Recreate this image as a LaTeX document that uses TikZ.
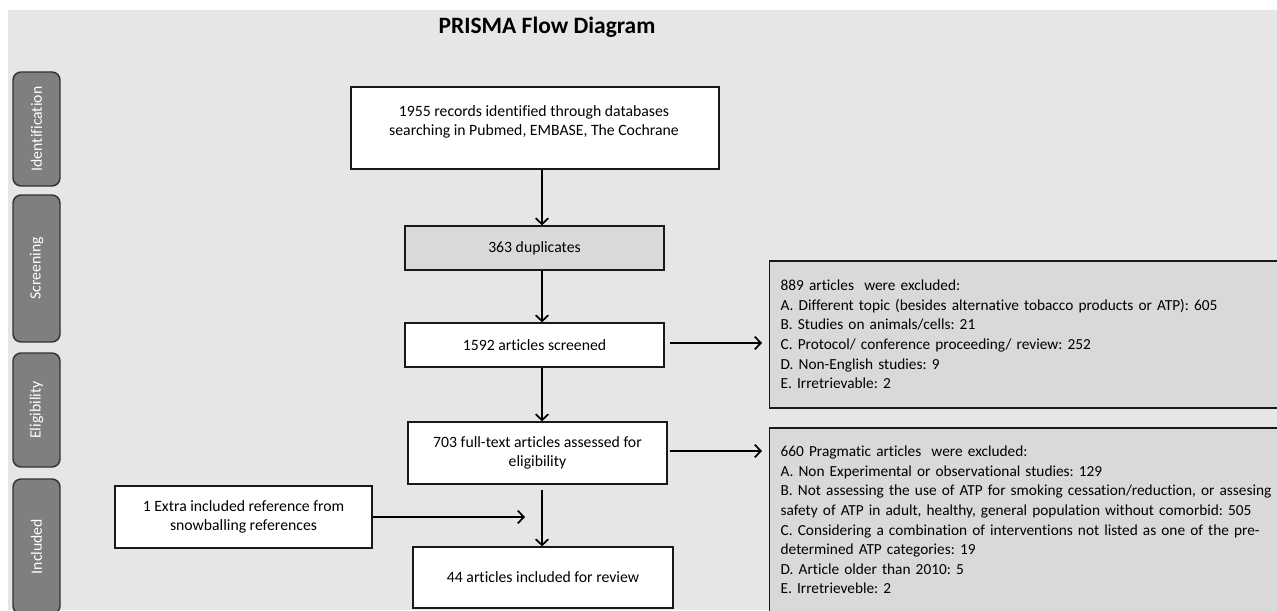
\documentclass[tikz,border=0pt]{standalone}
\usepackage{fontspec}
\setmainfont{Carlito}[Ligatures=NoCommon]
\usetikzlibrary{arrows.meta,calc}
\definecolor{bgc}{HTML}{E8E5E6}
\definecolor{boxgray}{HTML}{D9D9D9}
\definecolor{barfill}{HTML}{7F7F7F}
\definecolor{barline}{HTML}{333333}
\newcommand\bodyfont{\fontsize{11.8pt}{14.7pt}\selectfont}
\newcommand\exclfont{\fontsize{11.5pt}{14.7pt}\selectfont\spaceskip=0.21em plus 0.1em minus 0.05em\relax}
\newcommand\barfont{\fontsize{11.8pt}{13pt}\selectfont}
\newcommand\titlefont{\fontsize{17.6pt}{20pt}\selectfont\bfseries}
\frenchspacing
\begin{document}
\begin{tikzpicture}[x=0.75pt,y=-0.75pt,
  flowbox/.style={draw=black!90, line width=0.95pt, fill=white, align=center, font=\bodyfont, inner sep=0pt},
  graybox/.style={flowbox, fill=boxgray},
  exclbox/.style={draw=black!90, line width=0.95pt, fill=boxgray, align=left, font=\exclfont,
     text width=390pt, inner xsep=8.25pt, inner ysep=0pt, anchor=west},
  stagebar/.style={draw=barline, line width=1.1pt, fill=barfill, rounded corners=6pt,
     minimum width=35.25pt, inner sep=0pt, text=white, font=\barfont},
  arr/.style={draw=black, line width=1.35pt, -{Straight Barb[length=4.5pt,width=9.5pt,line width=1.3pt]}},
  txt/.style={inner sep=0pt, align=center, font=\bodyfont}
]
\path[use as bounding box, clip] (0,0) rectangle (1277,610);
\fill[white] (0,0) rectangle (1277,610);
\fill[bgc] (8,10) rectangle (1277,610);

% title
\node[inner sep=0pt, font=\titlefont, anchor=base] (title) at (547,34) {PRISMA Flow Diagram};

% stage bars
\node[stagebar, minimum height=85.5pt] (sid) at (36.5,129) {\rotatebox{90}{Identification}};
\node[stagebar, minimum height=110.25pt] (sscr) at (36.5,268.5) {\rotatebox{90}{Screening}};
\node[stagebar, minimum height=85.5pt] (selig) at (36.5,410) {\rotatebox{90}{Eligibility}};
\node[stagebar, minimum height=101.25pt] (sincl) at (36.5,546.5) {\rotatebox{90}{Included}};

% flow boxes
\node[flowbox, minimum width=276pt, minimum height=61.5pt] (b1) at (535,128) {};
\node[txt] (b1t) at (534,122) {1955 records identified through databases\\searching in Pubmed, EMBASE, The Cochrane};
\node[graybox, minimum width=194.25pt, minimum height=33pt] (dup) at (534.5,248) {363 duplicates};
\node[flowbox, minimum width=194.25pt, minimum height=33pt] (scr) at (534.5,345) {1592 articles screened};
\node[flowbox, minimum width=194.25pt, minimum height=46.5pt] (elig) at (537.5,453) {703 full-text articles assessed for\\eligibility};
\node[flowbox, minimum width=195pt, minimum height=45.75pt] (incl) at (543,577.5) {44 articles included for review};
\node[flowbox, minimum width=192.75pt, minimum height=46.5pt] (extra) at (243.5,517) {1 Extra included reference from\\snowballing references};

% exclusion boxes
\node[exclbox, minimum height=110.25pt] (ex1) at (769,334.5) {889 articles\ \ were excluded:\\
A. Different topic (besides alternative tobacco products or ATP): 605\\
B. Studies on animals/cells: 21\\
C. Protocol/ conference proceeding/ review: 252\\
D. Non-English studies: 9\\
E. Irretrievable: 2};
\node[exclbox, minimum height=138pt] (ex2) at (769,520) {660 Pragmatic articles\ \ were excluded:\\
A. Non Experimental or observational studies: 129\\
B. Not assessing the use of ATP for smoking cessation/reduction, or assesing\\
safety of ATP in adult, healthy, general population without comorbid: 505\\
C. Considering a combination of interventions not listed as one of the pre-\\
determined ATP categories: 19\\
D. Article older than 2010: 5\\
E. Irretrieveble: 2};

% connectors
\coordinate (col) at (542,0);
\coordinate (join) at (525,518);
\draw[arr] (b1.south -| col) -- (dup.north -| col);
\draw[arr] (dup.south -| col) -- (scr.north -| col);
\draw[arr] (scr.south -| col) -- (elig.north -| col);
\draw[arr] ($(elig.south -| col)+(0,5)$) -- (incl.north -| col);
\draw[arr] (extra.east) -- (extra.east -| join);
\draw[arr] ($(scr.east)+(5,-2)$) -- ($(scr.east -| ex1.west)+(-7,-2)$);
\draw[arr] ($(elig.east)+(2,-2)$) -- ($(elig.east -| ex2.west)+(-7,-2)$);
\end{tikzpicture}
\end{document}
